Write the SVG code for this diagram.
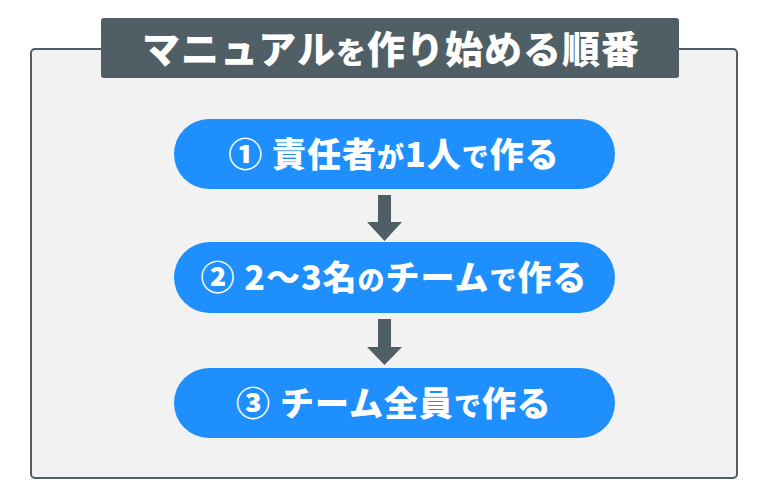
<svg xmlns="http://www.w3.org/2000/svg" width="768" height="500" viewBox="0 0 768 500">
<style>
.t{font-family:"Noto Sans CJK JP","Noto Sans",sans-serif;font-weight:900;fill:#ffffff;text-anchor:middle}
.p{font-size:34px;letter-spacing:1px}
.s{font-size:27px}
.pill{fill:#1e8ffc}
.dark{fill:#505e65}
</style>
<rect width="768" height="500" fill="#ffffff"/>
<g id="panel">
<rect x="31" y="49" width="706" height="429" rx="4" fill="#f2f2f2" stroke="#505e65" stroke-width="2"/>
</g>
<g id="title">
<rect x="101" y="18" width="578" height="60" rx="3" class="dark"/>
<text x="391" y="63" class="t" font-size="38" letter-spacing="1">マニュアル<tspan font-size="30">を</tspan>作り始める順番</text>
</g>
<g id="connectors">
<path class="dark" d="M378 195 H391 V222 H402 L384.5 241 L367 222 H378 Z"/>
<path class="dark" d="M378 319 H391 V347 H402 L384.5 365 L367 347 H378 Z"/>
</g>
<g id="step1">
<rect x="174" y="119" width="441" height="70" rx="35" class="pill"/>
<text x="394" y="167" class="t p">① 責任者<tspan class="s">が</tspan>1人<tspan class="s">で</tspan>作る</text>
</g>
<g id="step2">
<rect x="174" y="242" width="441" height="71" rx="35.5" class="pill"/>
<text x="394" y="290" class="t p">② 2～3名<tspan class="s">の</tspan>チーム<tspan class="s">で</tspan>作る</text>
</g>
<g id="step3">
<rect x="174" y="368" width="441" height="70" rx="35" class="pill"/>
<text x="394" y="416" class="t p">③ チーム全員<tspan class="s">で</tspan>作る</text>
</g>
</svg>
